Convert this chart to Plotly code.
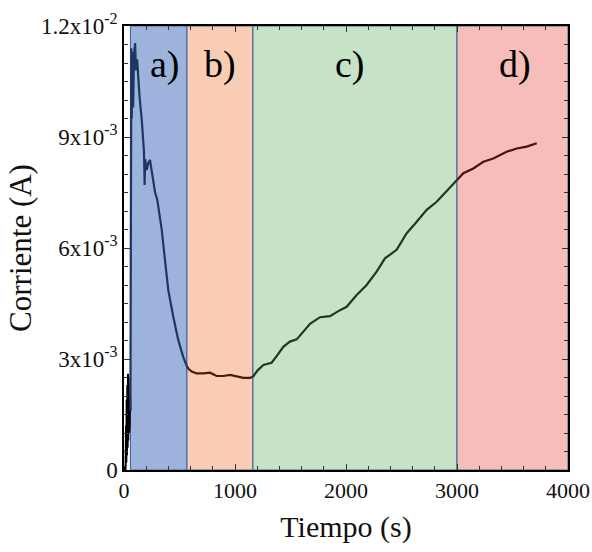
import plotly.graph_objects as go

# ---------------- data ----------------
t_init = [0, 6, 10, 14, 18, 21, 24, 27, 30, 33, 36, 39, 42, 45, 48, 51, 54, 58]
i_init = [0, 0, 0.0001, 0.0000, 0.0012, 0.0002, 0.0019, 0.0004, 0.0023, 0.0006,
          0.0026, 0.0008, 0.0025, 0.0010, 0.0023, 0.0012, 0.0020, 0.0016]

t_a = [58, 62, 66, 70, 75, 82, 90, 100, 108, 118, 130, 140, 160, 174, 180, 186,
       190, 205, 219, 234, 243, 264, 280, 300, 340, 369, 399, 444, 489, 534, 567]
i_a = [0.0016, 0.0097, 0.0114, 0.0095, 0.0113, 0.0098, 0.0112, 0.01154, 0.0108,
       0.0111, 0.0104, 0.0101, 0.00946, 0.00873, 0.0086, 0.0077, 0.0084, 0.00811,
       0.0083, 0.00838, 0.00819, 0.00784, 0.0075, 0.0073, 0.00649, 0.00568,
       0.00486, 0.00414, 0.00351, 0.00305, 0.00280]

t_b = [567, 585, 610, 655, 715, 775, 835, 895, 955, 1015, 1075, 1135, 1162]
i_b = [0.00280, 0.00272, 0.00266, 0.00261, 0.00261, 0.00263, 0.00254, 0.00254,
       0.00257, 0.00254, 0.00249, 0.00249, 0.00252]

t_c = [1162, 1200, 1255, 1330, 1380, 1435, 1495, 1556, 1610, 1676, 1766, 1856,
       1946, 2006, 2096, 2186, 2276, 2351, 2456, 2547, 2637, 2727, 2817, 2880, 2937, 3000]
i_c = [0.00252, 0.00268, 0.00284, 0.00290, 0.00310, 0.00333, 0.00347, 0.00353,
       0.00372, 0.00395, 0.00413, 0.00416, 0.00432, 0.00441, 0.00473, 0.00500,
       0.00536, 0.00572, 0.00595, 0.00640, 0.00671, 0.00703, 0.00725, 0.00745,
       0.00766, 0.00784]

t_d = [3000, 3057, 3147, 3237, 3327, 3447, 3538, 3628, 3718]
i_d = [0.00784, 0.00802, 0.00815, 0.00833, 0.00842, 0.00860, 0.00869, 0.00874, 0.00883]

region_bounds = [(58, 567), (567, 1162), (1162, 3000), (3000, 4000)]
region_labels = ["a)", "b)", "c)", "d)"]
label_x = [370, 865, 2036, 3522]
label_y = 0.01095

y_tickvals = [0, 0.003, 0.006, 0.009, 0.012]
y_ticktext = ["0", "3x10<sup>-3</sup>", "6x10<sup>-3</sup>", "9x10<sup>-3</sup>", "1.2x10<sup>-2</sup>"]
x_tickvals = [0, 1000, 2000, 3000, 4000]
x_ticktext = ["0", "1000", "2000", "3000", "4000"]

# ---------------- styles ----------------
fills = ["#9db3dc", "#f9cdb4", "#c6e3c8", "#f6bdb9"]
line_colors = ["#1f3563", "#4a1c0c", "#1c3a22", "#4b1010"]
SERIF = "'Liberation Serif', 'Times New Roman', serif"

fig = go.Figure()

for (x0, x1), fc in zip(region_bounds, fills):
    fig.add_shape(type="rect", xref="x", yref="y", x0=x0, x1=x1, y0=0, y1=0.012,
                  fillcolor=fc, line=dict(color="#3d5c9e", width=1), layer="below")

fig.add_trace(go.Scatter(x=t_init, y=i_init, mode="lines",
                         line=dict(color="black", width=2), showlegend=False))
for tx, iy, c in zip([t_a, t_b, t_c, t_d], [i_a, i_b, i_c, i_d], line_colors):
    fig.add_trace(go.Scatter(x=tx, y=iy, mode="lines",
                             line=dict(color=c, width=2.2), showlegend=False))

for lx, lt in zip(label_x, region_labels):
    fig.add_annotation(x=lx, y=label_y, text=lt, showarrow=False,
                       font=dict(family=SERIF, size=38, color="black"))

fig.update_xaxes(range=[0, 4000], tickvals=x_tickvals, ticktext=x_ticktext,
                 automargin=False,
                 showgrid=False, zeroline=False, showline=True, linecolor="black",
                 linewidth=1.5, mirror="allticks", ticks="inside", ticklen=6,
                 tickcolor="#333", tickfont=dict(family=SERIF, size=22, color="#111"),
                 minor=dict(dtick=200, ticks="inside", ticklen=4, tickcolor="#333"),
                 title=dict(text="Tiempo (s)", font=dict(family=SERIF, size=30, color="#111"),
                            standoff=14))
fig.update_yaxes(range=[0, 0.012], tickvals=y_tickvals, ticktext=y_ticktext,
                 automargin=False,
                 showgrid=False, zeroline=False, showline=True, linecolor="black",
                 linewidth=1.5, mirror="allticks", ticks="inside", ticklen=6,
                 tickcolor="#333", tickfont=dict(family=SERIF, size=23, color="#111"),
                 minor=dict(dtick=0.0005, ticks="inside", ticklen=4, tickcolor="#333"),
                 title=dict(text="Corriente (A)", font=dict(family=SERIF, size=31, color="#111"),
                            standoff=0))

fig.update_layout(width=592, height=552, plot_bgcolor="white", paper_bgcolor="white",
                  margin=dict(l=124, r=24, t=26, b=82))

fig.write_html("out.html", config={"displayModeBar": False},
               post_script="document.body.style.margin='0';document.body.style.overflow='hidden';")
